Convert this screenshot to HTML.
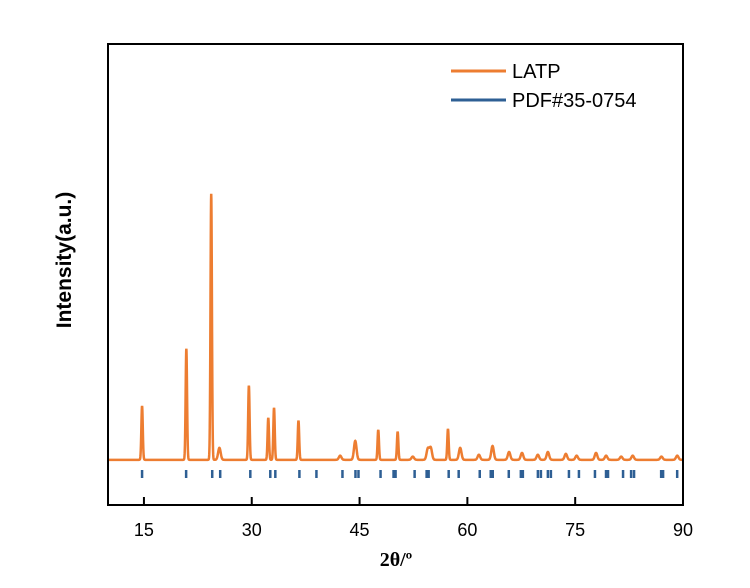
<!DOCTYPE html>
<html><head><meta charset="utf-8"><style>
body{margin:0;background:#fff;width:750px;height:583px;overflow:hidden}
svg{font-family:"Liberation Sans",Arial,sans-serif}
</style></head><body>
<svg id="chart" width="750" height="583">
<g id="plot"></g>
<rect x="108" y="44" width="575" height="461" fill="none" stroke="#000" stroke-width="2"/>
<g id="xticks"></g>
<text x="71" y="260" transform="rotate(-90 71 260)" text-anchor="middle" font-size="21" font-weight="bold">Intensity(a.u.)</text>
<text x="396" y="566" text-anchor="middle" font-size="20" font-weight="bold" font-family="Liberation Serif, serif">2θ/º</text>
<g>
<line x1="451" y1="71" x2="506" y2="71" stroke="#ed7d31" stroke-width="3"/>
<text x="512" y="78" font-size="20">LATP</text>
<line x1="451" y1="100" x2="506" y2="100" stroke="#2e5f94" stroke-width="3"/>
<text x="512" y="107" font-size="20">PDF#35-0754</text>
</g>
</svg>
<script>
const xTicks=[15,30,45,60,75,90];
const baseline=98;
const peakPos=[14.74,20.9,24.36,25.5,29.6,32.3,33.1,36.5,42.3,44.4,47.6,50.3,52.4,54.5,54.9,57.3,59.0,61.6,63.5,65.8,67.6,69.8,71.2,73.7,75.2,77.9,79.3,81.4,83.0,87.0,89.2];
const peakHeight=[117,241,577,26,161,91,113,85,9,41,65,61,7,24,26,67,26,11,30,17,15,11,17,13,9,15,9,7,9,7,9];
const refPos=[14.74,20.87,24.5,25.61,29.8,32.58,33.28,36.63,39.0,42.62,44.43,44.85,47.92,49.73,50.01,52.66,54.33,54.61,57.4,58.79,61.72,63.25,63.53,65.76,67.44,67.72,69.81,70.23,71.2,71.62,74.13,75.52,77.75,79.29,79.57,81.66,82.78,83.19,86.96,87.23,89.19];
const NS='http://www.w3.org/2000/svg';
const X=v=>108+(v-10)*575/80;
const Y=v=>505-v*461/1000;
const plot=document.getElementById('plot');
let d='';
for(let t=10;t<=90.001;t+=0.02){
  let I=baseline;
  for(let i=0;i<peakPos.length;i++){const w=peakHeight[i]>50?0.14:0.25;const u=(t-peakPos[i])/w;I+=peakHeight[i]*Math.exp(-u*u);}
  d+=(d?'L':'M')+X(t).toFixed(2)+' '+Y(I).toFixed(2);
}
const p=document.createElementNS(NS,'path');
p.setAttribute('d',d);p.setAttribute('fill','none');p.setAttribute('stroke','#ed7d31');p.setAttribute('stroke-width','2.5');


plot.appendChild(p);
refPos.forEach(v=>{
  const l=document.createElementNS(NS,'line');
  l.setAttribute('x1',X(v));l.setAttribute('x2',X(v));l.setAttribute('y1',470);l.setAttribute('y2',478);
  l.setAttribute('stroke','#2e5f94');l.setAttribute('stroke-width','2.5');
  
  
  plot.appendChild(l);
});
const xt=document.getElementById('xticks');
xTicks.forEach(v=>{
  const l=document.createElementNS(NS,'line');
  l.setAttribute('x1',X(v));l.setAttribute('x2',X(v));l.setAttribute('y1',505);l.setAttribute('y2',497);
  l.setAttribute('stroke','#000');l.setAttribute('stroke-width','2');
  
  
  xt.appendChild(l);
  const t=document.createElementNS(NS,'text');
  t.setAttribute('x',X(v));t.setAttribute('y',536);t.setAttribute('text-anchor','middle');t.setAttribute('font-size','18');
  t.textContent=v;
  
  
  xt.appendChild(t);
});
</script>
</body></html>
